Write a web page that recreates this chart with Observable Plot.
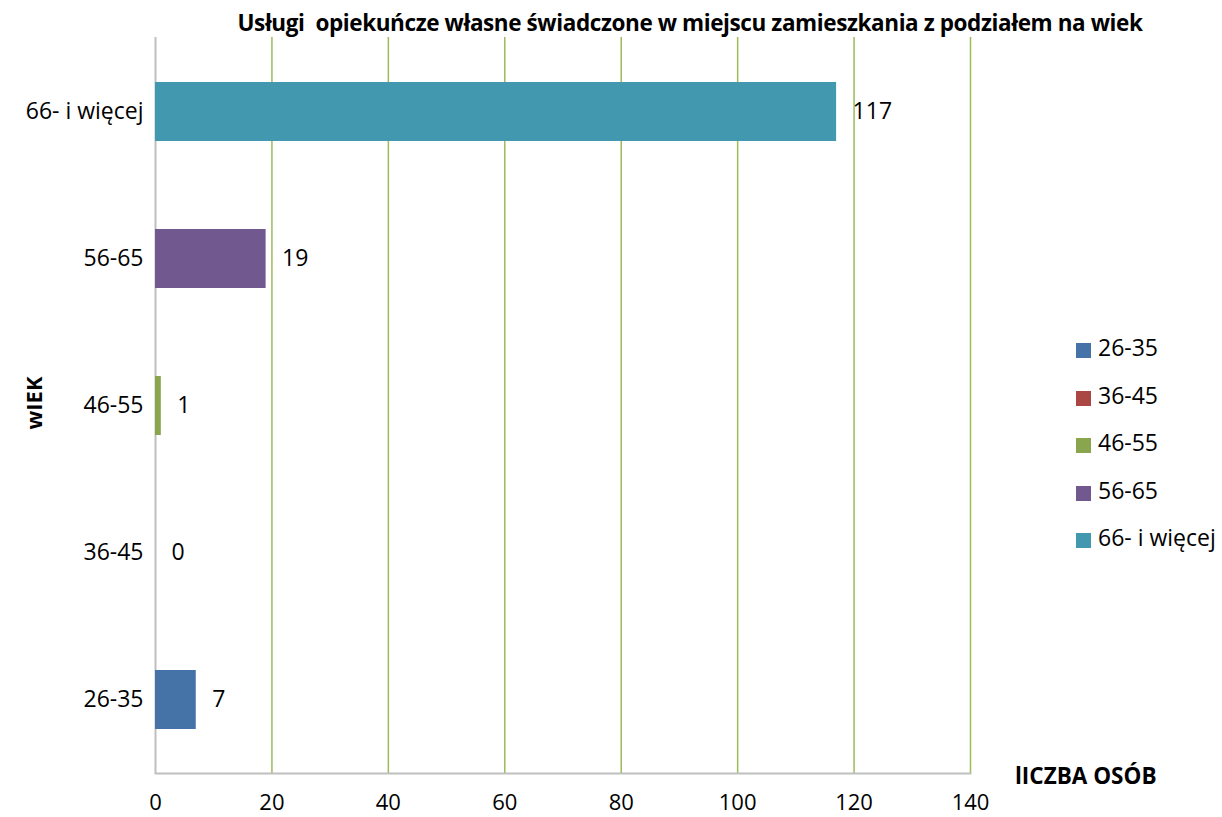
<!DOCTYPE html>
<html><head><meta charset="utf-8">
<script src="https://cdn.jsdelivr.net/npm/d3@7"></script>
<script src="https://cdn.jsdelivr.net/npm/@observablehq/plot@0.6"></script>
<style>
body{margin:0;background:#fff;font-family:"Open Sans",sans-serif;}
#wrap{position:relative;width:1222px;height:817px;}
.abs{position:absolute;white-space:pre;color:#000;}
#title{left:0;width:1380px;top:9px;text-align:center;font-weight:bold;font-size:22.5px;letter-spacing:-0.4px;line-height:1.2;}
#ylab{left:33px;top:403px;font-weight:bold;font-size:22px;transform:translate(-50%,-50%) rotate(-90deg);line-height:1;}
#xlab{left:1015px;top:762px;font-weight:bold;font-size:22.5px;line-height:1.2;}
#legend{left:1076px;top:334px;font-size:23px;line-height:1.2;}
.li{height:47.6px;display:flex;align-items:flex-start;}
.sw{width:15px;height:15px;margin-top:9px;margin-right:7px;}
</style></head>
<body><div id="wrap"></div>
<script>
const categories = ["26-35","36-45","46-55","56-65","66- i więcej"];
const values = [7,0,1,19,117];
const colors = ["#4572A7","#AA4643","#89A54E","#71588F","#4198AF"];
const xTicks = [0,20,40,60,80,100,120,140];
const gridTicks = [20,40,60,80,100,120,140];
const titleText = "Usługi  opiekuńcze własne świadczone w miejscu zamieszkania z podziałem na wiek";
const yLabel = "wIEK";
const xLabel = "lICZBA OSÓB";

const data = categories.map((c,i)=>({cat:c, value:values[i]}));

const chart = Plot.plot({
  width:1222, height:817,
  marginLeft:155, marginRight:252, marginTop:37, marginBottom:44,
  style:{fontFamily:"Open Sans, sans-serif", fontSize:"23px", color:"#000", background:"#fff"},
  x:{domain:[0,140], ticks:xTicks, label:null},
  y:{domain:[...categories].reverse(), paddingInner:0.6, paddingOuter:0.3, label:null},
  color:{domain:categories, range:colors},
  marks:[
    Plot.ruleX(gridTicks,{stroke:"#9BBB59", strokeWidth:1.5}),
    Plot.frame({anchor:"bottom", stroke:"#BFBFBF", strokeWidth:2}),
    Plot.ruleX([0],{stroke:"#BFBFBF", strokeWidth:2}),
    Plot.barX(data,{x:"value", y:"cat", fill:"cat"}),
    Plot.text(data,{x:"value", y:"cat", text:d=>String(d.value), textAnchor:"start", dx:16, fontSize:23, fill:"#000"}),
    Plot.axisX({ticks:xTicks, tickSize:0, tickPadding:21, fontSize:22, label:null}),
    Plot.axisY({tickSize:0, tickPadding:12, fontSize:23, label:null})
  ]
});
const wrap = document.getElementById("wrap");
wrap.appendChild(chart);
function add(id, txt){const d=document.createElement("div");d.id=id;d.className="abs";d.textContent=txt;wrap.appendChild(d);return d;}
add("title", titleText);
add("ylab", yLabel);
add("xlab", xLabel);
const lg=document.createElement("div");lg.id="legend";lg.className="abs";
categories.forEach((c,i)=>{const r=document.createElement("div");r.className="li";
 const s=document.createElement("div");s.className="sw";s.style.background=colors[i];
 const t=document.createElement("span");t.textContent=c;r.appendChild(s);r.appendChild(t);lg.appendChild(r);});
wrap.appendChild(lg);
</script></body></html>
